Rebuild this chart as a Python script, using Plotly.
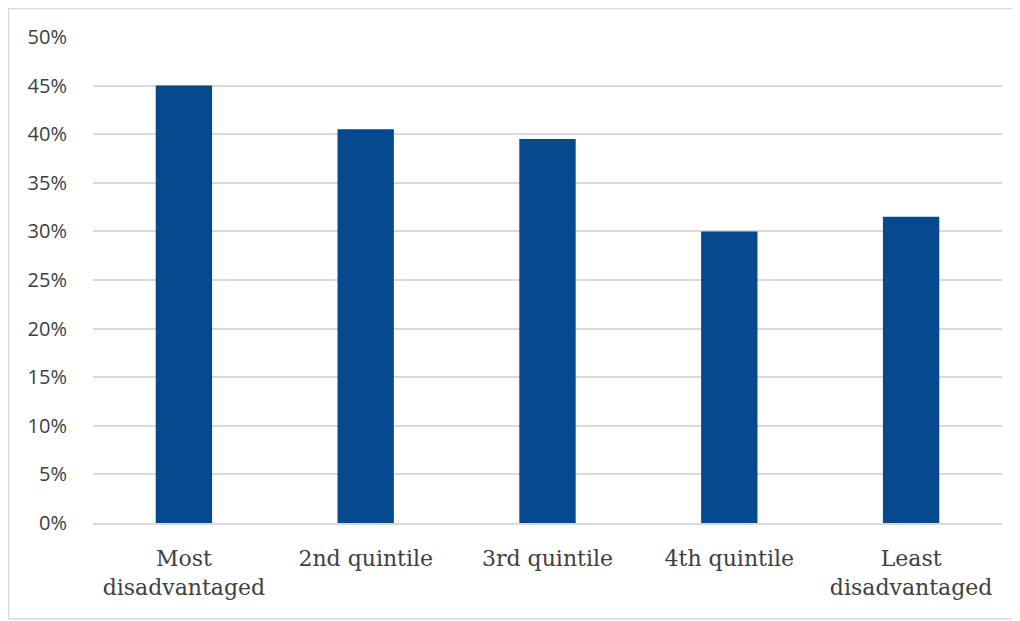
import plotly.graph_objects as go

categories = ["Most<br>disadvantaged", "2nd quintile", "3rd quintile", "4th quintile", "Least<br>disadvantaged"]
values = [0.45, 0.405, 0.395, 0.30, 0.315]
tick_vals = [0, 0.05, 0.10, 0.15, 0.20, 0.25, 0.30, 0.35, 0.40, 0.45, 0.50]
tick_text = ["0%", "5%", "10%", "15%", "20%", "25%", "30%", "35%", "40%", "45%", "50%"]

fig = go.Figure(go.Bar(x=categories, y=values, marker_color="#07498F", marker_line_width=0))

# page body has an 8px margin; compensate so the chart lands where the reference has it
OFF = 8
W, H = 1020 - OFF, 621 - OFF
L, R, T, B = 93 - OFF, 1020 - OFF - (1002 - OFF), 37 - OFF, 621 - OFF - (523 - OFF)
pw, ph = W - L - R, H - T - B

def px_x(x):
    return (x - OFF - L) / pw

def px_y(y):
    return (H - B - (y - OFF)) / ph

fig.update_layout(
    width=W, height=H,
    margin=dict(l=L, r=R, t=T, b=B, pad=0),
    paper_bgcolor="white", plot_bgcolor="white",
    bargap=0.69,
    showlegend=False,
    font=dict(family="DejaVu Serif", size=22, color="#404040"),
    xaxis=dict(showgrid=False, showline=True, linecolor="#d9d9d9", linewidth=1.5,
               ticks="", ticklabelstandoff=15, tickfont=dict(size=22, color="#404040")),
    yaxis=dict(range=[0, 0.5], tickvals=tick_vals, ticktext=tick_text,
               showgrid=True, gridcolor="#d9d9d9", gridwidth=1.5, zeroline=False,
               ticks="", ticklabelstandoff=25,
               tickfont=dict(family="Open Sans", size=20, color="#404040")),
    shapes=[dict(type="rect", xref="paper", yref="paper",
                 x0=px_x(8.5), x1=px_x(1016), y0=px_y(619), y1=px_y(8.5),
                 line=dict(color="#d9d9d9", width=1.5), fillcolor="rgba(0,0,0,0)", layer="below")],
)

fig.write_html("out.html")
